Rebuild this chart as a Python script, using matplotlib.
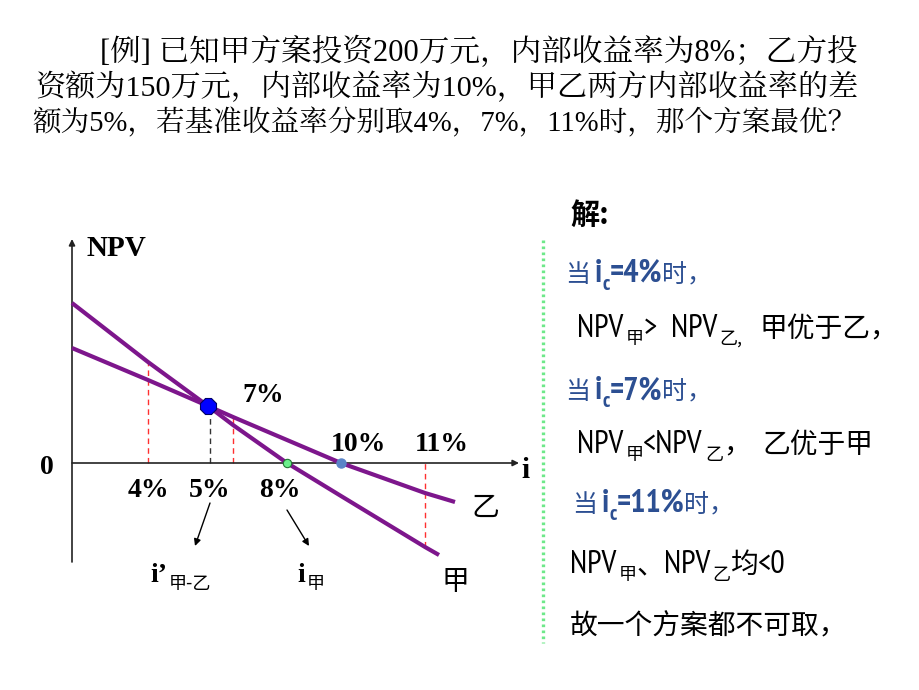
import matplotlib
matplotlib.use('Agg')
import matplotlib.pyplot as plt
import numpy as np
from matplotlib import font_manager

# schematic NPV curves: position along the i axis -> NPV (arbitrary units)
jia_i = [0, 76, 136, 161, 215, 269, 353, 367]
jia_npv = [160, 101, 57, 38, 0, -33, -84, -92]
yi_i = [0, 76, 136, 161, 269, 353, 383]
yi_npv = [115, 83, 57, 46, 0, -30, -39]

rate_labels = ['4%', '5%', '7%', '8%', '10%', '11%']
rate_pos = [76, 136, 161, 215, 269, 353]

title_lines = [
    '[例] 已知甲方案投资200万元，内部收益率为8%；乙方投',
    '资额为150万元，内部收益率为10%，甲乙两方内部收益率的差',
    '额为5%，若基准收益率分别取4%，7%，11%时，那个方案最优？',
]


def pick(cands):
    for c in cands:
        try:
            font_manager.findfont(font_manager.FontProperties(family=c),
                                  fallback_to_default=False)
            return c
        except Exception:
            pass
    return cands[-1]


NARROW = pick(['PT Sans Narrow', 'Archivo Narrow', 'Roboto Condensed', 'Liberation Sans'])
CJK = 'Noto Sans CJK SC'
CJK_SERIF = pick(['Noto Serif CJK SC', 'Noto Serif CJK JP', 'Noto Sans CJK SC'])
SERIF = 'Liberation Serif'
PURPLE = '#7d168c'
RED = '#ff3030'
BLUE_TXT = '#2c4f92'

fig = plt.figure(figsize=(9.2, 6.9), dpi=100)
fig.patch.set_facecolor('white')

# chart axes: 1 data unit = 1 pixel, origin at the NPV/i axes crossing
ax = fig.add_axes([0, 0, 1, 1])
ax.set_xlim(-72, 848)
ax.set_ylim(-227, 463)
ax.axis('off')

# overlay in pixel coordinates (y down) for the slide text
ov = fig.add_axes([0, 0, 1, 1], facecolor='none')
ov.set_xlim(0, 920)
ov.set_ylim(690, 0)
ov.axis('off')

r = fig.canvas.get_renderer()


def put(x, y, parts, color='black'):
    # parts: (text, size, dy, family, weight) or a number = horizontal gap
    for p in parts:
        if not isinstance(p, tuple):
            x += p
            continue
        s, fs, dy, fam, wt = p
        t = ov.text(x, y + dy, s, fontsize=fs, family=fam, weight=wt,
                    color=color, ha='left', va='baseline')
        x += t.get_window_extent(r).width
    return x


# axes with arrows
ax.annotate('', xy=(0, 224), xytext=(0, -99),
            arrowprops=dict(arrowstyle='-|>', lw=1.2, color='#222222',
                            shrinkA=0, shrinkB=0, mutation_scale=9))
ax.annotate('', xy=(447, 0), xytext=(0, 0),
            arrowprops=dict(arrowstyle='-|>', lw=1.2, color='#222222',
                            shrinkA=0, shrinkB=0, mutation_scale=9))

# guide lines
jia_at = lambda v: np.interp(v, jia_i, jia_npv)
yi_at = lambda v: np.interp(v, yi_i, yi_npv)
p4, p5, p7, p8, p10, p11 = rate_pos
ax.plot([p4, p4], [0, jia_at(p4)], color=RED, lw=1, ls=(0, (4, 3)))
ax.plot([p7, p7], [0, yi_at(p7)], color=RED, lw=1, ls=(0, (4, 3)))
ax.plot([p11, p11], [jia_at(p11), 0], color=RED, lw=1, ls=(0, (4, 3)))
ax.plot([p5 + 2, p5 + 2], [0, jia_at(p5)], color='#333333', lw=1, ls=(0, (4, 3)))

ax.plot(jia_i, jia_npv, color=PURPLE, lw=3, solid_capstyle='butt', zorder=3)
ax.plot(yi_i, yi_npv, color=PURPLE, lw=3, solid_capstyle='butt', zorder=3)

ax.plot([p5], [jia_at(p5)], marker='8', ms=12, color='#0000ff',
        mec='#000066', mew=0.8, zorder=5)
ax.plot([p8], [0], marker='o', ms=6, color='#6cf08c', mec='#227733',
        mew=0.8, zorder=5)
ax.plot([p10], [0], marker='o', ms=6.5, color='#5a84c8', mec='#5a84c8',
        zorder=5)

# chart labels
to_px = lambda xd, yd: (ax.transData.transform((xd, yd))[0],
                        690 - ax.transData.transform((xd, yd))[1])
lab_off = {'4%': (0, 34), '5%': (2, 34), '8%': (-7, 34),
           '7%': (30, -61), '10%': (17, -12), '11%': (17, -12)}
for lab, pos in zip(rate_labels, rate_pos):
    px, py = to_px(pos, 0)
    dx, dy = lab_off[lab]
    ov.text(px + dx, py + dy, lab, fontsize=20, family=SERIF, weight='bold',
            ha='center', va='baseline')

ov.text(87, 256, 'NPV', fontsize=21, family=SERIF, weight='bold',
        ha='left', va='baseline')
ov.text(47, 474, '0', fontsize=20, family=SERIF, weight='bold',
        ha='center', va='baseline')
ov.text(525, 478, 'i', fontsize=21, family=SERIF, weight='bold',
        ha='center', va='baseline')
ov.text(485, 508, '乙', fontsize=20, family=CJK, ha='center', va='center')
ov.text(455, 582, '甲', fontsize=20, family=CJK, ha='center', va='center')

put(150, 582, [("i’", 20, 0, SERIF, 'bold'), 2, ('甲-乙', 13, 7, CJK, 'normal')])
put(297, 582, [('i', 20, 0, SERIF, 'bold'), 2, ('甲', 13, 7, CJK, 'normal')])

for a, b in [((210, 503), (195, 546)), ((287, 510), (309, 546))]:
    ov.annotate('', xy=b, xytext=a,
                arrowprops=dict(arrowstyle='-|>', lw=1, color='black',
                                shrinkA=0, shrinkB=0, mutation_scale=10))

# title, each line fitted to the slide width
title_box = [(100, 857, 61), (35, 857, 96), (33, 856, 131)]
for line, (x0, x1, yb) in zip(title_lines, title_box):
    t = ov.text(x0, yb, line, fontsize=20, family=[SERIF, CJK_SERIF],
                weight='medium', ha='left', va='baseline')
    w = t.get_window_extent(r).width
    t.set_fontsize(20 * (x1 - x0) / w)

# solution text on the right
ov.plot([543, 543], [240, 643], color='#6ee88a', lw=2.4, ls=(0, (0.8, 1.0)))
ov.text(570, 224, '解:', fontsize=21, family=[CJK], weight='bold',
        ha='left', va='baseline')


def cond_line(x, y, val):
    put(x, y, [('当', 18, 0, CJK, 'medium'), 5, ('i', 23, 0, NARROW, 'bold'),
               ('c', 15, 8, NARROW, 'bold'), ('=' + val, 23, 0, NARROW, 'bold'),
               ('时，', 18, 0, CJK, 'medium')], color=BLUE_TXT)


cond_line(565, 282, '4%')
put(577, 337, [('NPV', 23, 0, NARROW, 'normal'), 2, ('甲', 13, 7, CJK, 'normal'),
               ('>', 23, 0, NARROW, 'normal'), 14,
               ('NPV', 23, 0, NARROW, 'normal'), 2, ('乙,', 13, 7, CJK, 'normal'), 18,
               ('甲优于乙，', 20, 0, CJK, 'normal')])
cond_line(565, 399, '7%')
put(577, 453, [('NPV', 23, 0, NARROW, 'normal'), 2, ('甲', 13, 7, CJK, 'normal'),
               ('<NPV', 23, 0, NARROW, 'normal'), 2, ('乙', 13, 7, CJK, 'normal'),
               ('，', 20, 0, CJK, 'normal'), 12,
               ('乙优于甲', 20, 0, CJK, 'normal')])
cond_line(572, 512, '11%')
put(570, 573, [('NPV', 23, 0, NARROW, 'normal'), 2, ('甲', 13, 7, CJK, 'normal'),
               ('、', 20, 0, CJK, 'normal'),
               ('NPV', 23, 0, NARROW, 'normal'), 2, ('乙', 13, 7, CJK, 'normal'),
               ('均', 20, 0, CJK, 'normal'), ('<0', 23, 0, NARROW, 'normal')])
put(570, 634, [('故一个方案都不可取，', 20, 0, CJK, 'normal')])

fig.savefig('out.png', dpi=100)
